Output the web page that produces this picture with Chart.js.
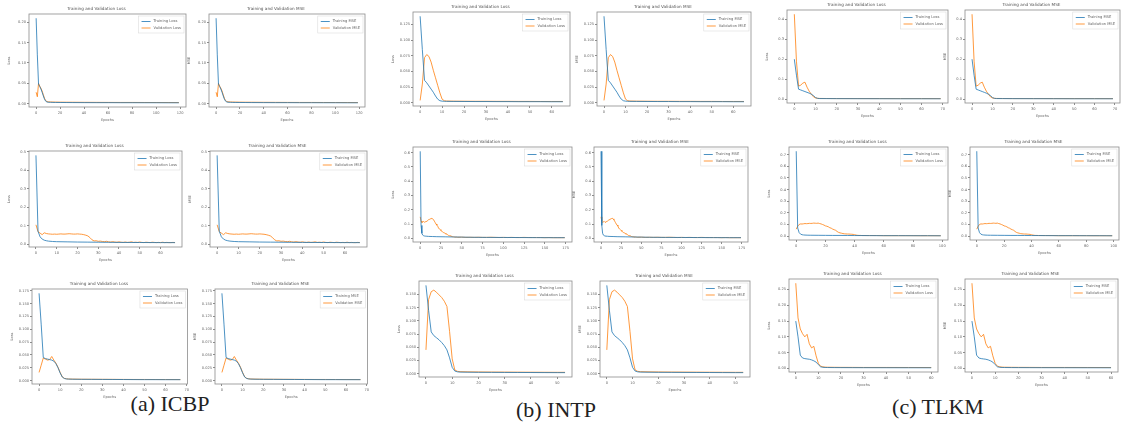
<!DOCTYPE html>
<html>
<head>
<meta charset="utf-8">
<title>Training and Validation Loss / MSE</title>
<script src="https://cdn.jsdelivr.net/npm/chart.js@4.4.1/dist/chart.umd.min.js"></script>
<style>
  html, body { margin: 0; padding: 0; background: #fff; overflow: hidden; }
  body { position: relative; width: 1123px; height: 441px; }
  .panel { position: absolute; }
  .caption {
    position: absolute;
    font-family: "Liberation Serif", "DejaVu Serif", serif;
    font-size: 22px;
    color: #222;
    white-space: nowrap;
    transform: translate(-50%, -50%);
  }
</style>
</head>
<body>
<div class="caption" style="left:170px;top:404px">(a) ICBP</div>
<div class="caption" style="left:556px;top:410px">(b) INTP</div>
<div class="caption" style="left:938px;top:407px">(c) TLKM</div>

<script>
// --- data ---
// ICBP, row 1
const icbp1Ep = [0, 1, 2, 3, 4, 5, 6, 7, 8, 9, 10, 12, 14, 16, 20, 25, 30, 40, 50, 60, 70, 80, 90, 100, 110, 119];
const icbp1Train = [0.21, 0.12, 0.048, 0.042, 0.036, 0.028, 0.019, 0.011, 0.006, 0.0042, 0.0036,
  0.0033, 0.0031, 0.003, 0.0029, 0.0028, 0.0027, 0.0026, 0.0025, 0.0025, 0.0024, 0.0024, 0.0023, 0.0023, 0.0022, 0.0022];
const icbp1Val = [0.028, 0.017, 0.05, 0.043, 0.038, 0.031, 0.022, 0.013, 0.0075, 0.0052, 0.0045,
  0.0042, 0.004, 0.0039, 0.0037, 0.0036, 0.0035, 0.0033, 0.0032, 0.0031, 0.003, 0.003, 0.0029, 0.0028, 0.0028, 0.0027];
const icbp1XTicks = [0, 20, 40, 60, 80, 100, 120];
const icbp1YTicks = ['0.00', '0.05', '0.10', '0.15', '0.20'];

// ICBP, row 2
const icbp2TrainEp = [0, 1, 2, 3, 4, 5, 6, 8, 10, 15, 20, 25, 30, 35, 40, 50, 60, 67];
const icbp2Train = [0.48, 0.07, 0.04, 0.028, 0.022, 0.019, 0.017, 0.015, 0.014, 0.013, 0.012, 0.0115, 0.011, 0.0105, 0.01, 0.0095, 0.009, 0.0088];
const icbp2Val = [
  0.105, 0.068, 0.06, 0.052, 0.062, 0.058, 0.056, 0.055, 0.054, 0.055,
  0.054, 0.055, 0.056, 0.055, 0.055, 0.056, 0.057, 0.056, 0.055, 0.055,
  0.056, 0.055, 0.054, 0.052, 0.049, 0.045, 0.036, 0.024, 0.018, 0.019,
  0.016, 0.017, 0.015, 0.014, 0.016, 0.013, 0.012, 0.014, 0.012, 0.011,
  0.013, 0.011, 0.01, 0.012, 0.01, 0.011, 0.013, 0.01, 0.011, 0.01,
  0.012, 0.01, 0.009, 0.011, 0.01, 0.009, 0.011, 0.01, 0.009, 0.01,
  0.009, 0.011, 0.009, 0.01, 0.009, 0.009, 0.01, 0.009];
const icbp2XTicks = [0, 10, 20, 30, 40, 50, 60];
const icbp2YTicks = ['0.0', '0.1', '0.2', '0.3', '0.4', '0.5'];

// ICBP, row 3
const icbp3Ep = [0, 1, 2, 3, 4, 5, 6, 7, 8, 9, 10, 11, 12, 13, 14, 16, 18, 20, 25, 30, 35, 40, 45, 50, 55, 60, 67];
const icbp3Train = [0.17, 0.11, 0.045, 0.043, 0.042, 0.041, 0.04, 0.038, 0.033, 0.025, 0.015, 0.007, 0.0042, 0.0033, 0.003,
  0.0028, 0.0027, 0.0026, 0.0025, 0.0024, 0.0023, 0.0022, 0.0021, 0.002, 0.002, 0.0019, 0.0019];
const icbp3Val = [0.016, 0.03, 0.044, 0.042, 0.04, 0.041, 0.047, 0.04, 0.034, 0.026, 0.016, 0.0075, 0.0045, 0.0036, 0.0032,
  0.003, 0.0029, 0.0028, 0.0027, 0.0026, 0.0025, 0.0024, 0.0023, 0.0023, 0.0022, 0.0022, 0.0021];
const icbp3XTicks = [0, 10, 20, 30, 40, 50, 60, 70];
const icbp3YTicks = ['0.000', '0.025', '0.050', '0.075', '0.100', '0.125', '0.150', '0.175'];

// INTP, row 1
const intp1Ep = [0, 1, 2, 3, 4, 5, 6, 7, 8, 9, 10, 11, 12, 15, 20, 25, 30, 35, 40, 45, 50, 55, 60, 65];
const intp1Train = [0.138, 0.085, 0.036, 0.032, 0.027, 0.022, 0.017, 0.011, 0.006, 0.0035, 0.0028, 0.0026, 0.0025,
  0.0024, 0.0023, 0.0022, 0.0022, 0.0021, 0.0021, 0.002, 0.002, 0.002, 0.0019, 0.0019];
const intp1Val = [0.004, 0.03, 0.072, 0.077, 0.074, 0.065, 0.052, 0.04, 0.028, 0.016, 0.006, 0.0035, 0.003,
  0.0028, 0.0027, 0.0026, 0.0026, 0.0025, 0.0025, 0.0024, 0.0024, 0.0023, 0.0023, 0.0023];
const intp1XTicks = [0, 10, 20, 30, 40, 50, 60];
const intp1YTicks = ['0.000', '0.025', '0.050', '0.075', '0.100', '0.125'];

// INTP, row 2
const intp2TrainEp = [0, 1, 2, 3, 4, 5, 6, 8, 10, 15, 20, 30, 40, 50, 60, 80, 100, 120, 140, 160, 174];
const intp2Train = [0.61, 0.09, 0.035, 0.022, 0.018, 0.016, 0.015, 0.014, 0.013, 0.012, 0.011, 0.01, 0.009, 0.008, 0.007, 0.006, 0.0055, 0.005, 0.0045, 0.004, 0.004];
const intp2ValEp = [0, 1, 2, 3, 4, 5, 6, 7, 8, 9, 10, 11, 12, 13, 14, 15, 16, 17, 18, 19, 20, 21, 22, 23, 24, 25, 26, 27, 28, 29,
  30, 31, 32, 33, 34, 35, 36, 37, 38, 39, 40, 41, 42, 43, 44, 45,
  50, 55, 60, 65, 70, 75, 80, 85, 90, 95, 100, 105, 110, 115, 120, 125, 130, 135, 140, 145, 150, 155, 160, 165, 170, 174];
const intp2Val = [
  0.15, 0.12, 0.11, 0.115, 0.118, 0.112, 0.115, 0.118, 0.12, 0.125,
  0.13, 0.132, 0.135, 0.138, 0.14, 0.136, 0.13, 0.12, 0.11, 0.1,
  0.092, 0.085, 0.072, 0.065, 0.06, 0.055, 0.05, 0.043, 0.04, 0.038,
  0.033, 0.03, 0.028, 0.025, 0.02, 0.018, 0.017, 0.015, 0.012, 0.011,
  0.01, 0.009, 0.008, 0.009, 0.008, 0.007,
  0.008, 0.006, 0.007, 0.006, 0.007, 0.006, 0.006, 0.007, 0.006, 0.005, 0.006, 0.005, 0.006,
  0.005, 0.005, 0.006, 0.005, 0.005, 0.005, 0.005, 0.004, 0.005, 0.004, 0.004, 0.004, 0.004];
const intp2XTicks = [0, 25, 50, 75, 100, 125, 150, 175];
const intp2YTicks = ['0.0', '0.1', '0.2', '0.3', '0.4', '0.5', '0.6'];

// INTP, row 3
const intp3Ep = [0, 1, 2, 3, 4, 5, 6, 7, 8, 9, 10, 11, 12, 13, 16, 20, 25, 30, 35, 40, 45, 50, 53];
const intp3Train = [0.167, 0.12, 0.079, 0.072, 0.068, 0.064, 0.059, 0.053, 0.045, 0.03, 0.012, 0.005, 0.0035, 0.003,
  0.0028, 0.0026, 0.0025, 0.0024, 0.0023, 0.0022, 0.0021, 0.002, 0.002];
const intp3Val = [0.045, 0.14, 0.155, 0.158, 0.154, 0.149, 0.144, 0.137, 0.127, 0.08, 0.028, 0.007, 0.0045, 0.0038,
  0.0035, 0.0033, 0.0031, 0.003, 0.0029, 0.0028, 0.0027, 0.0026, 0.0026];
const intp3XTicks = [0, 10, 20, 30, 40, 50];
const intp3YTicks = ['0.000', '0.025', '0.050', '0.075', '0.100', '0.125', '0.150'];

// TLKM, row 1
const tlkm1Ep = [0, 1, 2, 3, 4, 5, 6, 7, 8, 9, 10, 11, 12, 15, 20, 30, 40, 50, 60, 69];
const tlkm1Train = [0.2, 0.12, 0.05, 0.046, 0.042, 0.038, 0.034, 0.03, 0.025, 0.018, 0.008, 0.004, 0.003,
  0.0028, 0.0026, 0.0024, 0.0022, 0.002, 0.002, 0.0019];
const tlkm1Val = [0.425, 0.19, 0.065, 0.07, 0.08, 0.085, 0.06, 0.04, 0.025, 0.012, 0.006, 0.004, 0.0035,
  0.0032, 0.003, 0.003, 0.0029, 0.0028, 0.0028, 0.0027];
const tlkm1XTicks = [0, 10, 20, 30, 40, 50, 60, 70];
const tlkm1YTicks = ['0.0', '0.1', '0.2', '0.3', '0.4'];

// TLKM, row 2
const tlkm2TrainEp = [0, 1, 2, 3, 4, 5, 6, 8, 10, 15, 20, 25, 30, 35, 40, 45, 50, 60, 70, 80, 90, 99];
const tlkm2Train = [0.73, 0.07, 0.03, 0.017, 0.012, 0.01, 0.009, 0.008, 0.0075, 0.007, 0.0065, 0.006, 0.006, 0.0055, 0.005, 0.005, 0.0045, 0.004, 0.004, 0.0035, 0.0035, 0.003];
const tlkm2ValEp = [0, 1, 2, 3, 4, 5, 6, 7, 8, 9, 10, 11, 12, 13, 14, 15, 16, 17, 18, 19, 20, 21, 22, 23, 24, 25, 26, 27, 28, 29,
  30, 31, 32, 33, 34, 35, 36, 37, 38, 39, 40, 41, 42, 43, 44, 45, 50, 55, 60, 65, 70, 75, 80, 85, 90, 95, 99];
const tlkm2Val = [
  0.06, 0.085, 0.1, 0.105, 0.104, 0.106, 0.108, 0.107, 0.108, 0.11,
  0.109, 0.11, 0.112, 0.111, 0.11, 0.112, 0.108, 0.105, 0.1, 0.095,
  0.088, 0.085, 0.08, 0.072, 0.068, 0.06, 0.055, 0.05, 0.04, 0.032,
  0.028, 0.025, 0.022, 0.02, 0.019, 0.018, 0.018, 0.017, 0.016, 0.015,
  0.012, 0.009, 0.007, 0.006, 0.006, 0.005,
  0.005, 0.005, 0.004, 0.004, 0.004, 0.004, 0.004, 0.0035, 0.0035, 0.0035, 0.0035];
const tlkm2XTicks = [0, 20, 40, 60, 80, 100];
const tlkm2YTicks = ['0.0', '0.1', '0.2', '0.3', '0.4', '0.5', '0.6', '0.7'];

// TLKM, row 3
const tlkm3Ep = [0, 1, 2, 3, 4, 5, 6, 7, 8, 9, 10, 11, 12, 13, 14, 17, 20, 25, 30, 40, 50, 60];
const tlkm3Train = [0.15, 0.1, 0.042, 0.033, 0.031, 0.03, 0.029, 0.027, 0.024, 0.02, 0.012, 0.005, 0.0035, 0.003, 0.0028,
  0.0026, 0.0025, 0.0024, 0.0023, 0.0022, 0.0021, 0.002];
const tlkm3Val = [0.27, 0.16, 0.125, 0.11, 0.1, 0.108, 0.078, 0.065, 0.07, 0.04, 0.016, 0.007, 0.005, 0.004, 0.0038,
  0.0035, 0.0033, 0.0032, 0.003, 0.003, 0.0029, 0.0028];
const tlkm3XTicks = [0, 10, 20, 30, 40, 50, 60];
const tlkm3YTicks = ['0.00', '0.05', '0.10', '0.15', '0.20', '0.25'];

// --- groups (loss and MSE panels share the same curves) ---
const groups = {
  icbp1: { trainEp: icbp1Ep, train: icbp1Train, valEp: icbp1Ep, val: icbp1Val, xTicks: icbp1XTicks, yTicks: icbp1YTicks },
  icbp2: { trainEp: icbp2TrainEp, train: icbp2Train, valEp: null, val: icbp2Val, xTicks: icbp2XTicks, yTicks: icbp2YTicks },
  icbp3: { trainEp: icbp3Ep, train: icbp3Train, valEp: icbp3Ep, val: icbp3Val, xTicks: icbp3XTicks, yTicks: icbp3YTicks },
  intp1: { trainEp: intp1Ep, train: intp1Train, valEp: intp1Ep, val: intp1Val, xTicks: intp1XTicks, yTicks: intp1YTicks },
  intp2: { trainEp: intp2TrainEp, train: intp2Train, valEp: intp2ValEp, val: intp2Val, xTicks: intp2XTicks, yTicks: intp2YTicks },
  intp3: { trainEp: intp3Ep, train: intp3Train, valEp: intp3Ep, val: intp3Val, xTicks: intp3XTicks, yTicks: intp3YTicks },
  tlkm1: { trainEp: tlkm1Ep, train: tlkm1Train, valEp: tlkm1Ep, val: tlkm1Val, xTicks: tlkm1XTicks, yTicks: tlkm1YTicks },
  tlkm2: { trainEp: tlkm2TrainEp, train: tlkm2Train, valEp: tlkm2ValEp, val: tlkm2Val, xTicks: tlkm2XTicks, yTicks: tlkm2YTicks },
  tlkm3: { trainEp: tlkm3Ep, train: tlkm3Train, valEp: tlkm3Ep, val: tlkm3Val, xTicks: tlkm3XTicks, yTicks: tlkm3YTicks }
};

// plot frame of each panel on the page: [left, top, right, bottom]
const panels = [
  { group: 'icbp1', metric: 'Loss', box: [29, 14, 186, 107] },
  { group: 'icbp1', metric: 'MSE',  box: [209, 14, 365, 107] },
  { group: 'icbp2', metric: 'Loss', box: [29, 151, 182, 247] },
  { group: 'icbp2', metric: 'MSE',  box: [210, 151, 367, 247] },
  { group: 'icbp3', metric: 'Loss', box: [32, 289, 188, 384] },
  { group: 'icbp3', metric: 'MSE',  box: [215, 289, 368, 384] },
  { group: 'intp1', metric: 'Loss', box: [413, 12, 570, 106] },
  { group: 'intp1', metric: 'MSE',  box: [597, 12, 751, 106] },
  { group: 'intp2', metric: 'Loss', box: [413, 147, 572, 242] },
  { group: 'intp2', metric: 'MSE',  box: [594, 147, 748, 242] },
  { group: 'intp3', metric: 'Loss', box: [419, 281, 572, 377] },
  { group: 'intp3', metric: 'MSE',  box: [600, 281, 750, 377] },
  { group: 'tlkm1', metric: 'Loss', box: [787, 10, 948, 103] },
  { group: 'tlkm1', metric: 'MSE',  box: [965, 10, 1120, 103] },
  { group: 'tlkm2', metric: 'Loss', box: [789, 147, 948, 240] },
  { group: 'tlkm2', metric: 'MSE',  box: [970, 147, 1119, 240] },
  { group: 'tlkm3', metric: 'Loss', box: [789, 279, 938, 372] },
  { group: 'tlkm3', metric: 'MSE',  box: [965, 279, 1118, 372] }
];

const BLUE = 'rgba(31, 119, 180, 0.8)';
const ORANGE = 'rgba(255, 127, 14, 0.8)';
const TEXT = '#666';
const FRAME = '#8c8c8c';
const PAD = { l: 22, t: 9, r: 3, b: 15 };

Chart.defaults.font.family = '"DejaVu Sans", sans-serif';

function points(xs, ys) {
  return ys.map((y, i) => ({ x: xs ? xs[i] : i, y: y }));
}

// matplotlib style 5% margins
function padRange(lo, hi) {
  const m = (hi - lo) * 0.05;
  return [lo - m, hi + m];
}

// box round the plot area
const framePlugin = {
  id: 'frame',
  afterDraw(chart) {
    const a = chart.chartArea, ctx = chart.ctx;
    ctx.save();
    ctx.strokeStyle = FRAME;
    ctx.lineWidth = 0.8;
    ctx.strokeRect(a.left, a.top, a.right - a.left, a.bottom - a.top);
    ctx.restore();
  }
};

// legend in the upper right corner, inside the plot
const cornerLegend = {
  id: 'cornerLegend',
  afterDatasetsDraw(chart) {
    const a = chart.chartArea, ctx = chart.ctx;
    const sets = chart.data.datasets;
    ctx.save();
    ctx.font = '3.7px "DejaVu Sans"';
    const tw = Math.max(...sets.map(d => ctx.measureText(d.label).width));
    const bw = 3 + 9 + 3 + tw + 3;
    const bh = 3 + sets.length * 6.5 + 1;
    const x = a.right - bw - 2, y = a.top + 2;
    ctx.fillStyle = 'rgba(255,255,255,0.85)';
    ctx.fillRect(x, y, bw, bh);
    ctx.strokeStyle = '#dcdcdc';
    ctx.lineWidth = 0.6;
    ctx.strokeRect(x, y, bw, bh);
    sets.forEach((d, i) => {
      const cy = y + 3 + i * 6.5 + 2.5;
      ctx.strokeStyle = d.borderColor;
      ctx.lineWidth = 1;
      ctx.beginPath();
      ctx.moveTo(x + 3, cy);
      ctx.lineTo(x + 12, cy);
      ctx.stroke();
      ctx.fillStyle = TEXT;
      ctx.textBaseline = 'middle';
      ctx.fillText(d.label, x + 15, cy);
    });
    ctx.restore();
  }
};

function buildPanel(p) {
  const g = groups[p.group];
  const [l, t, r, b] = p.box;
  const w = r - l + PAD.l + PAD.r;
  const h = b - t + PAD.t + PAD.b;

  const holder = document.createElement('div');
  holder.className = 'panel';
  holder.style.left = (l - PAD.l) + 'px';
  holder.style.top = (t - PAD.t) + 'px';
  const cv = document.createElement('canvas');
  cv.width = w;
  cv.height = h;
  cv.style.width = w + 'px';
  cv.style.height = h + 'px';
  holder.appendChild(cv);
  document.body.appendChild(holder);

  const tx = g.trainEp || g.train.map((_, i) => i);
  const vx = g.valEp || g.val.map((_, i) => i);
  const xr = padRange(0, Math.max(tx[tx.length - 1], vx[vx.length - 1]));
  const all = g.train.concat(g.val);
  const yr = padRange(Math.min(...all), Math.max(...all));

  new Chart(cv, {
    type: 'line',
    data: {
      datasets: [
        { label: 'Training ' + p.metric, data: points(tx, g.train), borderColor: BLUE },
        { label: 'Validation ' + p.metric, data: points(vx, g.val), borderColor: ORANGE }
      ]
    },
    options: {
      responsive: false,
      animation: false,
      events: [],
      elements: {
        point: { radius: 0 },
        line: { borderWidth: 1, tension: 0, fill: false }
      },
      layout: { padding: { left: 0, right: PAD.r, top: 0, bottom: 0 } },
      plugins: {
        legend: { display: false },
        tooltip: { enabled: false },
        title: {
          display: true,
          text: 'Training and Validation ' + p.metric,
          color: '#555',
          font: { size: 4.2, weight: 'normal', lineHeight: 1 },
          padding: { top: 2, bottom: 2.8 }
        }
      },
      scales: {
        x: {
          type: 'linear',
          bounds: 'data',
          min: xr[0],
          max: xr[1],
          afterBuildTicks: s => { s.ticks = g.xTicks.map(v => ({ value: v })); },
          afterFit: s => { s.height = PAD.b; },
          grid: { drawOnChartArea: false, tickLength: 2, tickColor: FRAME },
          border: { display: false },
          ticks: {
            autoSkip: false, maxRotation: 0, padding: 2, color: TEXT,
            font: { size: 3.6 },
            callback: v => String(v)
          },
          title: { display: true, text: 'Epochs', color: TEXT, font: { size: 3.6, lineHeight: 1 }, padding: 0 }
        },
        y: {
          type: 'linear',
          bounds: 'data',
          min: yr[0],
          max: yr[1],
          afterBuildTicks: s => { s.ticks = g.yTicks.map(v => ({ value: parseFloat(v) })); },
          afterFit: s => { s.width = PAD.l; },
          grid: { drawOnChartArea: false, tickLength: 2, tickColor: FRAME },
          border: { display: false },
          ticks: {
            autoSkip: false, padding: 1, color: TEXT,
            font: { size: 3.6 },
            callback: (v, i) => g.yTicks[i]
          },
          title: { display: true, text: p.metric, color: TEXT, font: { size: 3.6, lineHeight: 1 }, padding: 0 }
        }
      }
    },
    plugins: [framePlugin, cornerLegend]
  });
}

panels.forEach(buildPanel);
</script>
</body>
</html>
